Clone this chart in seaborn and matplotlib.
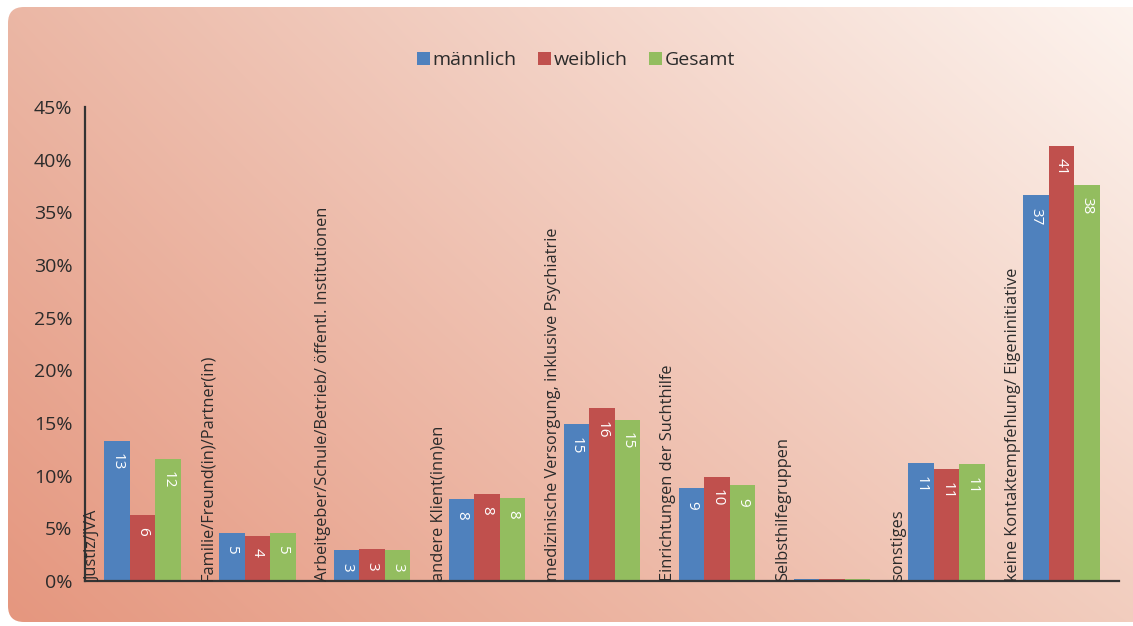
import numpy as np
import pandas as pd
import matplotlib
matplotlib.use("Agg")
import matplotlib.pyplot as plt
import seaborn as sns
from matplotlib.patches import FancyBboxPatch, Patch

# --- data ---------------------------------------------------------------
categories = [
    "Justiz/JVA",
    "Familie/Freund(in)/Partner(in)",
    "Arbeitgeber/Schule/Betrieb/ öffentl. Institutionen",
    "andere Klient(inn)en",
    "medizinische Versorgung, inklusive Psychiatrie",
    "Einrichtungen der Suchthilfe",
    "Selbsthilfegruppen",
    "sonstiges",
    "keine Kontaktempfehlung/ Eigeninitiative",
]
maennlich = [13.3, 4.6, 2.9, 7.8, 14.9, 8.8, 0.15, 11.2, 36.6]
weiblich = [6.3, 4.3, 3.0, 8.3, 16.4, 9.9, 0.15, 10.6, 41.3]
gesamt = [11.6, 4.6, 2.9, 7.9, 15.3, 9.1, 0.15, 11.1, 37.6]
series = ["männlich", "weiblich", "Gesamt"]
series_colors = ["#4F81BD", "#C0504D", "#93BD5F"]
y_ticks = [0, 5, 10, 15, 20, 25, 30, 35, 40, 45]

df = pd.DataFrame({
    "Kategorie": categories * 3,
    "Gruppe": [s for s in series for _ in categories],
    "Anteil": maennlich + weiblich + gesamt,
})

# --- figure -------------------------------------------------------------
sns.set_theme(style="white")
plt.rcParams["font.family"] = ["Open Sans", "DejaVu Sans"]
text_color = "#2b2b2b"

W, H = 1133, 626
fig = plt.figure(figsize=(W / 100, H / 100), dpi=100)
fig.patch.set_facecolor("white")

# rounded panel with a diagonal salmon gradient
bg = fig.add_axes([0, 0, 1, 1], zorder=-5)
bg.set_xlim(0, W)
bg.set_ylim(0, H)
bg.axis("off")
tl = np.array([235, 183, 165]) / 255
tr = np.array([253, 244, 239]) / 255
bl = np.array([229, 150, 126]) / 255
br = np.array([242, 205, 190]) / 255
u = np.linspace(0, 1, 300)[None, :, None]
v = np.linspace(0, 1, 200)[:, None, None]
grad = (1 - v) * ((1 - u) * bl + u * br) + v * ((1 - u) * tl + u * tr)
im = bg.imshow(grad, extent=[0, W, 0, H], origin="lower", aspect="auto",
               interpolation="bilinear")
panel = FancyBboxPatch((8, 4), W + 20, H - 11,
                       boxstyle="round,pad=0,rounding_size=16",
                       transform=bg.transData, facecolor="none", edgecolor="none")
bg.add_patch(panel)
im.set_clip_path(panel)

ax = fig.add_axes([85 / W, 1 - 581 / H, (1119 - 85) / W, (581 - 107) / H])
ax.set_facecolor("none")

sns.barplot(data=df, x="Kategorie", y="Anteil", hue="Gruppe",
            hue_order=series, palette=series_colors, order=categories,
            width=0.665, gap=0, saturation=1, errorbar=None,
            linewidth=0, edgecolor="none", legend=False, ax=ax)

ax.set_xlim(-0.5, len(categories) - 0.5)
ax.set_ylim(0, 45)
ax.set_yticks(y_ticks)
ax.set_yticklabels([f"{t}%" for t in y_ticks])
ax.set_xticks(np.arange(len(categories) + 1) - 0.5)
ax.set_xticklabels([])
ax.set_xlabel("")
ax.set_ylabel("")

for side in ("top", "right"):
    ax.spines[side].set_visible(False)
for side in ("left", "bottom"):
    ax.spines[side].set_color("#333333")
    ax.spines[side].set_linewidth(1.6)
ax.tick_params(axis="both", direction="out", length=6, width=1.6,
               color="#333333", labelsize=14, labelcolor=text_color, pad=3)
ax.tick_params(axis="x", length=7)

# value labels inside the bar tops
for container in ax.containers:
    for bar in container:
        h = bar.get_height()
        if h < 0.5:
            continue
        ax.annotate(f"{h:.0f}", (bar.get_x() + bar.get_width() / 2, h),
                    xytext=(0, -9), textcoords="offset points",
                    rotation=-90, ha="center", va="top",
                    color="white", fontsize=11)

# category names standing vertically at the left edge of each group
for i, name in enumerate(categories):
    ax.annotate(name, (i - 0.5, 0), xytext=(0.3, 0), textcoords="offset points",
                rotation=90, ha="left", va="bottom",
                color=text_color, fontsize=11.8)

handles = [Patch(facecolor=c, edgecolor="none") for c in series_colors]
fig.legend(handles, series, loc="center", bbox_to_anchor=(576 / W, 1 - 60 / H),
           ncol=3, frameon=False, fontsize=14, handlelength=0.65,
           handleheight=0.65, handletextpad=0.15, columnspacing=1.1,
           labelcolor=text_color)

fig.savefig("out.png", dpi=100, facecolor=fig.get_facecolor())
